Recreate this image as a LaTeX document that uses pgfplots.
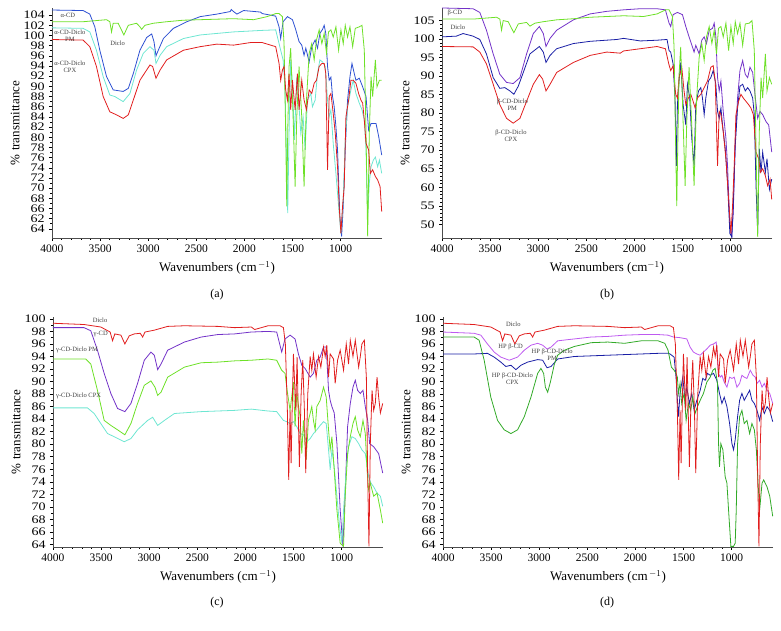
\documentclass[border=0pt]{standalone}
\usepackage{fontspec}
\setmainfont{Liberation Serif}
\usepackage{pgfplots}
\pgfplotsset{compat=1.18}
\definecolor{cBlueA}{RGB}{45,80,210}
\definecolor{cGreen}{RGB}{110,225,40}
\definecolor{cCyan}{RGB}{110,230,210}
\definecolor{cRed}{RGB}{225,30,30}
\definecolor{cPurple}{RGB}{115,50,200}
\definecolor{cNavy}{RGB}{25,30,165}
\definecolor{cViolet}{RGB}{190,90,240}
\definecolor{cDGreen}{RGB}{50,170,40}
\tikzset{ann/.style={font=\fontsize{6.5}{7}\selectfont, text=black!75, align=center, inner sep=0pt}}
\pgfplotsset{
  ftir/.style={
    scale only axis, width=330pt, height=230pt, anchor=south west,
    x dir=reverse, xmin=570, xmax=4000,
    xtick={1000,1500,...,4000}, minor x tick num=4,
    axis lines*=left, tick align=outside,
    major tick length=3pt, minor tick length=1.8pt,
    every tick/.style={black, line width=0.5pt},
    axis line style={line width=0.6pt, black!70},
    xticklabel style={font=\fontsize{11.5}{12}\selectfont},
    yticklabel style={font=\fontsize{11.5}{12}\selectfont, xscale=1.22},
    /pgf/number format/assume math mode=true,
    /pgf/number format/1000 sep={},
    xlabel={Wavenumbers (cm$^{\,-1}$)},
    ylabel={\% transmittance},
    label style={font=\fontsize{13}{14}\selectfont},
    xlabel style={at={(axis description cs:0.5,-0.13)}, anchor=center},
    ylabel style={at={(axis description cs:-0.112,0.5)}, anchor=center},
    every axis plot/.append style={line width=0.8pt, no markers},
    clip=true,
  },
}
\begin{document}
\begin{tikzpicture}[x=1pt,y=1pt]
\path[use as bounding box] (0,0) rectangle (781,631);
% ---------------- (a) ----------------
\begin{axis}[ftir, at={(52pt,393pt)}, ymin=60.2, ymax=105.4,
  ytick={62,64,...,104}, yticklabels={64,62,66,68,70,72,74,76,78,80,82,84,86,88,90,92,94,96,98,100,102,104},
  minor y tick num=1]
\addplot[cBlueA] coordinates {(4000,105.0) (3677,104.9) (3607,104.2) (3555,101.7) (3503,97.1) (3433,91.9) (3364,89.3) (3260,89.0) (3207,89.6) (3155,92.5) (3086,97.1) (3016,99.6) (2964,100.3) (2940,98.8) (2919,96.0) (2895,97.1) (2842,99.4) (2738,101.4) (2599,102.7) (2460,103.7) (2286,104.2) (2147,104.7) (2137,105.1) (2113,104.7) (2078,104.2) (2008,104.9) (1834,104.6) (1814,104.3) (1675,103.8) (1640,101.7) (1623,99.4) (1598,102.7) (1553,103.7) (1501,103.1) (1466,101.1) (1432,98.8) (1404,98.1) (1380,96.1) (1362,97.5) (1327,94.8) (1300,97.8) (1265,99.1) (1240,97.5) (1216,100.4) (1188,101.2) (1171,102.0) (1154,100.4) (1136,93.9) (1119,91.2) (1101,91.8) (1084,88.0) (1067,86.0) (1049,82.1) (1032,77.5) (1008,64.4) (990,60.5) (973,66.4) (952,77.5) (928,87.3) (903,91.9) (882,94.5) (858,92.5) (841,91.2) (806,91.6) (771,89.9) (736,88.0) (709,81.4) (684,82.7) (632,82.7) (604,80.1) (573,76.5)};
\addplot[cCyan] coordinates {(4000,101.5) (3677,101.4) (3607,100.7) (3538,97.1) (3468,91.9) (3399,88.3) (3347,88.0) (3260,87.0) (3190,88.6) (3121,93.2) (3051,96.5) (2982,97.8) (2940,97.1) (2919,94.5) (2877,96.1) (2808,97.8) (2634,99.4) (2460,100.1) (2113,100.7) (1814,101.0) (1675,101.1) (1623,97.1) (1598,95.2) (1578,89.6) (1564,77.5) (1550,65.1) (1536,80.8) (1519,95.2) (1501,90.6) (1480,79.5) (1456,91.9) (1432,86.0) (1414,80.8) (1390,84.0) (1369,77.5) (1345,87.3) (1310,88.6) (1293,86.0) (1265,87.3) (1240,92.5) (1216,95.2) (1188,94.8) (1160,93.9) (1136,87.3) (1119,84.0) (1101,85.4) (1077,78.8) (1049,72.9) (1021,66.4) (997,61.1) (973,67.7) (952,79.5) (928,86.0) (893,89.3) (869,91.2) (841,88.6) (806,86.7) (778,85.4) (754,83.4) (736,77.5) (719,64.4) (702,71.0) (684,74.2) (660,75.5) (639,76.1) (615,74.2) (597,75.5) (573,72.9)};
\addplot[cGreen] coordinates {(4000,102.7) (3677,102.7) (3433,103.1) (3399,102.7) (3381,100.7) (3364,102.4) (3312,102.4) (3253,100.1) (3207,102.0) (3121,102.4) (3086,101.7) (3068,101.2) (3034,102.0) (2947,102.4) (2808,102.7) (2634,103.0) (2460,103.1) (2113,103.3) (1904,103.1) (1765,103.7) (1675,104.3) (1640,104.3) (1605,103.7) (1588,98.4) (1571,80.8) (1560,66.4) (1550,80.8) (1536,93.9) (1519,97.5) (1494,84.0) (1473,70.3) (1456,84.0) (1432,93.9) (1404,84.0) (1380,70.3) (1355,87.3) (1327,96.5) (1300,98.4) (1275,95.2) (1251,99.1) (1223,101.1) (1195,98.4) (1171,100.4) (1147,96.5) (1126,100.7) (1101,101.1) (1077,99.7) (1049,101.7) (1021,97.1) (997,101.1) (973,98.4) (952,102.0) (928,99.7) (903,101.7) (875,97.8) (848,101.4) (806,101.7) (778,102.0) (754,97.1) (736,80.8) (719,60.5) (702,80.8) (684,91.9) (667,88.0) (639,95.2) (622,89.9) (597,91.2) (573,91.2)};
\addplot[cRed] coordinates {(4000,99.2) (3677,99.1) (3607,97.8) (3538,93.9) (3468,88.0) (3399,85.0) (3329,84.4) (3260,83.7) (3207,84.4) (3155,87.3) (3086,91.2) (2982,94.2) (2954,93.9) (2919,91.6) (2877,93.2) (2808,95.2) (2634,97.1) (2460,97.8) (2286,98.3) (2113,98.1) (1939,98.6) (1814,98.6) (1675,97.8) (1640,94.5) (1623,91.2) (1605,93.2) (1588,93.9) (1571,89.3) (1553,87.3) (1536,92.5) (1519,85.4) (1501,91.2) (1473,85.4) (1449,92.5) (1432,85.4) (1404,91.2) (1380,87.3) (1355,85.4) (1327,89.3) (1300,88.6) (1275,90.6) (1251,91.2) (1223,93.9) (1195,94.5) (1171,94.5) (1154,92.5) (1136,73.6) (1119,88.0) (1101,88.6) (1077,84.7) (1056,80.8) (1032,74.2) (1015,66.4) (997,61.1) (980,66.4) (963,70.3) (945,84.0) (917,87.3) (893,91.2) (869,91.2) (841,90.6) (813,88.6) (789,87.3) (771,86.7) (754,83.4) (736,78.8) (709,77.5) (691,72.9) (667,73.6) (639,72.3) (615,71.6) (590,70.3) (573,65.4)};
\node[ann] at (axis cs:3835,104) {α-CD};
\node[ann] at (axis cs:3814,99.9) {α-CD-Diclo\\PM};
\node[ann] at (axis cs:3317,98.5) {Diclo};
\node[ann] at (axis cs:3814,93.8) {α-CD-Diclo\\CPX};
\end{axis}
% ---------------- (b) ----------------
\begin{axis}[ftir, at={(442pt,393pt)}, ymin=46.3, ymax=108.4,
  ytick={50,55,...,105}, minor y tick num=4, xlabel={Wavenumbers (cm$^{-1}$)}]
\addplot[cPurple] coordinates {(4000,108.4) (3677,108.2) (3607,107.2) (3538,102.4) (3468,96.0) (3399,90.5) (3329,88.3) (3260,88.0) (3190,89.6) (3121,96.0) (3051,101.5) (2988,103.4) (2947,101.5) (2919,98.0) (2877,100.2) (2808,102.4) (2634,105.2) (2460,106.8) (2286,107.5) (2113,107.9) (1939,108.2) (1765,108.2) (1678,107.9) (1640,104.3) (1623,103.4) (1598,106.6) (1553,107.2) (1501,106.6) (1466,103.4) (1432,100.6) (1397,97.9) (1380,96.5) (1362,98.3) (1327,96.0) (1300,99.7) (1275,100.6) (1251,98.8) (1223,102.4) (1188,102.9) (1171,104.3) (1154,100.8) (1136,89.6) (1119,86.0) (1101,88.7) (1077,80.5) (1049,73.2) (1032,65.8) (1008,49.4) (990,46.6) (973,53.0) (952,72.2) (928,84.1) (903,91.5) (875,94.2) (848,90.5) (823,89.6) (799,92.4) (771,91.0) (743,84.1) (719,78.6) (695,80.5) (667,79.6) (632,77.7) (604,76.8) (573,69.5)};
\addplot[cNavy] coordinates {(4000,100.6) (3851,100.8) (3781,101.5) (3677,100.8) (3607,99.9) (3538,96.0) (3468,89.6) (3399,86.7) (3347,86.9) (3294,86.0) (3253,85.1) (3207,87.3) (3155,91.0) (3086,96.0) (2988,98.0) (2947,96.5) (2919,93.7) (2877,95.6) (2808,97.4) (2634,98.8) (2460,99.4) (2182,99.9) (2113,100.2) (1939,99.5) (1765,99.7) (1661,99.9) (1640,96.9) (1623,96.5) (1598,93.3) (1578,84.1) (1564,65.8) (1553,82.3) (1536,88.7) (1519,93.7) (1494,82.3) (1466,76.8) (1449,87.8) (1425,84.1) (1404,73.2) (1380,65.8) (1362,82.3) (1334,86.0) (1310,86.9) (1293,84.1) (1275,79.6) (1258,84.1) (1230,88.7) (1206,89.6) (1181,91.5) (1154,87.8) (1136,80.5) (1119,78.6) (1101,81.4) (1084,76.8) (1056,70.4) (1032,61.3) (1008,47.5) (987,46.6) (973,54.9) (952,71.3) (928,81.4) (903,87.3) (875,87.8) (848,86.0) (823,86.9) (799,86.0) (771,84.1) (754,79.6) (736,60.4) (719,47.5) (702,70.4) (684,64.0) (667,69.5) (639,64.0) (622,67.7) (597,59.4) (573,62.2)};
\addplot[cRed] coordinates {(4000,98.0) (3677,97.9) (3607,96.5) (3538,93.3) (3468,87.8) (3399,82.3) (3329,78.6) (3260,77.3) (3190,78.6) (3121,83.2) (3051,87.8) (2988,90.4) (2954,89.2) (2919,86.0) (2877,87.8) (2808,91.0) (2634,93.7) (2460,95.6) (2286,96.5) (2147,96.2) (2113,96.8) (1939,97.4) (1765,98.0) (1678,97.4) (1643,93.3) (1623,91.5) (1598,92.8) (1571,85.1) (1553,84.1) (1536,89.6) (1508,92.4) (1484,86.0) (1466,82.3) (1439,84.1) (1414,85.1) (1390,83.2) (1369,81.4) (1345,84.1) (1310,85.1) (1275,86.9) (1240,88.7) (1206,92.4) (1181,92.8) (1160,88.7) (1136,65.8) (1119,80.5) (1101,79.6) (1077,75.0) (1049,67.7) (1021,56.7) (997,47.5) (980,54.9) (963,65.8) (945,79.6) (917,83.2) (893,85.1) (869,84.1) (841,83.2) (813,82.3) (789,81.4) (764,79.6) (736,69.5) (709,67.7) (691,64.0) (667,65.0) (639,63.1) (615,60.4) (590,62.2) (573,56.7)};
\addplot[cGreen] coordinates {(4000,105.4) (3677,105.4) (3433,105.9) (3399,105.4) (3381,102.4) (3364,105.0) (3312,104.7) (3253,101.7) (3207,104.1) (3121,104.5) (3086,103.5) (3034,104.3) (2947,104.7) (2808,105.2) (2634,105.5) (2460,105.9) (2113,106.3) (1904,106.1) (1765,106.8) (1675,107.9) (1640,107.9) (1605,106.1) (1588,97.9) (1571,70.4) (1560,54.9) (1550,70.4) (1536,90.5) (1519,97.9) (1494,77.7) (1473,60.4) (1456,77.7) (1432,92.4) (1404,76.8) (1380,60.4) (1355,83.2) (1327,95.1) (1300,98.8) (1275,94.2) (1251,100.6) (1223,103.4) (1195,98.8) (1171,102.4) (1147,96.0) (1126,102.9) (1101,103.4) (1077,100.6) (1049,104.3) (1021,96.9) (997,103.4) (973,98.8) (952,104.7) (928,101.5) (903,104.3) (875,98.3) (848,104.1) (806,104.3) (778,105.0) (754,96.9) (736,70.4) (719,46.6) (702,75.0) (684,89.6) (667,84.1) (639,96.0) (622,86.0) (597,89.6) (573,87.8)};
\node[ann] at (axis cs:3866,107.2) {β-CD};
\node[ann] at (axis cs:3835,103.2) {Diclo};
\node[ann] at (axis cs:3269,82.3) {β-CD-Diclo\\PM};
\node[ann] at (axis cs:3283,73.9) {β-CD-Diclo\\CPX};
\end{axis}
% ---------------- (c) ----------------
\begin{axis}[ftir, at={(53pt,84pt)}, ymin=63.6, ymax=100.3,
  ytick={64,66,...,100}, minor y tick num=1]
\addplot[cPurple] coordinates {(4000,98.6) (3677,98.6) (3607,98.1) (3538,95.0) (3468,91.3) (3399,88.1) (3329,85.7) (3253,85.2) (3190,86.5) (3121,89.7) (3051,93.4) (2982,94.7) (2947,94.2) (2912,91.9) (2877,92.8) (2808,95.0) (2634,96.3) (2460,97.1) (2286,97.5) (2113,97.6) (1939,97.9) (1765,98.0) (1675,97.9) (1623,94.7) (1588,96.8) (1536,97.4) (1484,96.8) (1449,94.4) (1414,92.6) (1380,92.1) (1327,90.7) (1293,91.3) (1258,93.4) (1223,93.9) (1188,95.5) (1160,95.5) (1136,88.6) (1119,87.0) (1101,86.0) (1077,85.0) (1049,80.1) (1015,69.5) (987,63.7) (963,72.2) (938,82.8) (910,86.5) (882,89.1) (858,90.2) (834,88.6) (806,88.1) (778,88.6) (754,86.0) (729,83.8) (709,80.1) (667,79.6) (615,78.5) (573,75.4)};
\addplot[cCyan] coordinates {(4000,85.8) (3642,85.8) (3572,84.9) (3503,83.3) (3433,81.7) (3364,81.2) (3260,80.4) (3190,80.9) (3121,82.3) (3016,83.8) (2964,84.3) (2912,83.0) (2842,83.8) (2738,84.9) (2460,85.2) (2113,85.4) (1939,85.6) (1765,85.3) (1675,85.2) (1605,83.8) (1571,83.6) (1536,83.3) (1501,83.6) (1466,82.8) (1432,81.7) (1397,81.5) (1362,80.4) (1327,80.9) (1293,81.7) (1258,82.3) (1223,83.0) (1188,83.6) (1160,83.3) (1136,79.1) (1119,75.9) (1101,79.1) (1077,76.4) (1049,71.7) (1021,66.9) (997,64.2) (980,69.5) (952,75.9) (928,79.6) (893,81.2) (858,80.9) (823,80.1) (789,79.1) (754,78.5) (719,74.8) (695,73.8) (667,73.2) (632,72.2) (597,71.7) (573,70.1)};
\addplot[cGreen] coordinates {(4000,93.6) (3660,93.6) (3607,92.8) (3538,88.6) (3468,83.8) (3399,83.0) (3329,82.3) (3253,81.5) (3190,83.3) (3121,86.5) (3051,89.4) (2982,90.1) (2940,89.1) (2912,87.8) (2877,88.3) (2808,90.7) (2634,92.3) (2460,93.0) (2286,93.1) (2113,93.3) (1939,93.4) (1765,93.6) (1675,93.4) (1623,91.8) (1588,91.3) (1571,89.1) (1536,85.4) (1501,89.9) (1484,82.8) (1466,88.1) (1432,84.4) (1414,78.5) (1397,83.8) (1369,77.5) (1345,83.8) (1310,86.0) (1293,83.8) (1275,82.3) (1258,86.0) (1223,87.0) (1188,89.1) (1160,87.5) (1136,82.3) (1119,79.1) (1101,81.2) (1077,75.9) (1049,69.5) (1015,64.2) (980,63.7) (963,71.7) (938,78.5) (910,81.2) (882,83.3) (858,84.4) (834,82.3) (806,81.2) (778,83.8) (754,81.7) (736,75.9) (719,72.7) (702,73.8) (667,71.7) (632,72.2) (597,69.5) (573,67.4)};
\addplot[cRed] coordinates {(4000,99.3) (3677,99.1) (3503,98.7) (3406,97.9) (3381,96.5) (3357,97.6) (3294,97.4) (3253,96.0) (3207,97.3) (3155,97.6) (3093,97.7) (3068,97.1) (3044,97.9) (2947,98.2) (2808,98.8) (2634,98.9) (2286,98.8) (2113,98.6) (1939,98.7) (1904,98.3) (1765,98.9) (1640,98.9) (1605,98.6) (1585,96.0) (1564,85.4) (1550,74.3) (1536,85.4) (1525,77.0) (1515,85.0) (1501,94.4) (1477,85.4) (1463,93.9) (1439,76.4) (1421,88.0) (1404,93.4) (1386,85.0) (1373,75.4) (1352,88.0) (1327,94.0) (1310,91.8) (1293,94.4) (1265,90.7) (1240,94.0) (1216,92.3) (1188,95.5) (1171,94.0) (1154,95.8) (1136,90.7) (1119,94.4) (1084,93.6) (1067,89.7) (1042,93.4) (1015,95.0) (980,91.8) (952,96.0) (928,92.8) (910,96.6) (882,94.0) (858,96.6) (823,92.3) (806,94.0) (789,96.0) (764,96.6) (743,90.7) (729,74.8) (716,63.7) (702,80.0) (684,88.6) (667,85.4) (650,86.5) (632,90.7) (615,87.5) (597,85.0) (573,86.5)};
\node[ann] at (axis cs:3511,99.7) {Diclo};
\node[ann] at (axis cs:3504,97.5) {γ-CD};
\node[ann, anchor=west] at (axis cs:3969,95.1) {γ-CD-Diclo PM};
\node[ann, anchor=west] at (axis cs:3969,87.7) {γ-CD-Diclo CPX};
\end{axis}
% ---------------- (d) ----------------
\begin{axis}[ftir, at={(443pt,84pt)}, ymin=63.6, ymax=100.3,
  ytick={64,66,...,100}, minor y tick num=1]
\addplot[cViolet] coordinates {(4000,97.9) (3677,97.7) (3607,97.4) (3538,96.0) (3468,94.7) (3399,93.9) (3312,93.4) (3225,93.9) (3155,95.0) (3086,95.8) (3016,96.1) (2964,95.8) (2919,95.2) (2877,95.5) (2808,96.5) (2634,96.8) (2460,97.1) (2286,97.2) (2113,97.4) (1939,97.5) (1765,97.5) (1661,97.4) (1605,97.1) (1536,97.0) (1466,96.8) (1432,95.5) (1397,94.7) (1362,94.4) (1327,94.2) (1293,94.7) (1258,95.2) (1223,95.8) (1188,96.0) (1160,96.3) (1136,91.3) (1119,90.7) (1101,91.0) (1077,89.9) (1049,89.1) (1021,90.7) (997,90.5) (973,90.7) (945,89.1) (917,89.7) (893,91.0) (869,90.7) (841,90.5) (806,91.8) (778,91.0) (754,90.7) (736,89.7) (709,90.2) (684,89.1) (660,89.7) (632,88.6) (604,88.1) (573,86.5)};
\addplot[cNavy] coordinates {(4000,94.4) (3677,94.4) (3538,94.5) (3468,93.9) (3399,93.1) (3347,92.4) (3294,92.6) (3242,91.9) (3190,92.6) (3121,93.1) (3016,93.5) (2964,93.4) (2919,92.2) (2877,92.4) (2808,93.6) (2634,94.0) (2286,94.2) (1939,94.4) (1765,94.5) (1661,94.5) (1640,94.4) (1598,93.9) (1578,90.7) (1553,84.4) (1536,88.1) (1508,90.7) (1484,87.0) (1466,89.1) (1439,86.5) (1414,88.1) (1390,85.4) (1362,87.0) (1327,88.6) (1300,90.5) (1275,90.2) (1251,91.3) (1223,91.0) (1188,91.3) (1154,90.2) (1126,88.1) (1101,86.5) (1077,87.5) (1049,86.0) (1021,83.3) (997,80.1) (980,79.1) (963,80.7) (938,84.4) (917,87.0) (893,88.1) (869,87.0) (841,87.8) (813,88.6) (789,87.0) (764,86.5) (736,85.4) (709,83.8) (684,85.9) (660,84.9) (632,86.0) (604,85.4) (573,83.6)};
\addplot[cDGreen] coordinates {(4000,97.1) (3677,97.1) (3625,96.6) (3572,93.4) (3503,87.5) (3433,83.8) (3364,82.3) (3294,81.7) (3225,82.3) (3155,84.4) (3086,87.5) (3016,91.3) (2982,92.1) (2954,91.3) (2936,89.1) (2912,88.3) (2884,89.9) (2842,92.8) (2808,94.2) (2738,95.0) (2634,95.6) (2460,96.2) (2286,96.3) (2113,96.1) (1939,96.5) (1765,96.5) (1695,96.1) (1661,95.0) (1626,92.3) (1598,91.8) (1578,91.3) (1564,90.7) (1553,88.1) (1536,89.7) (1519,86.5) (1494,88.1) (1473,83.8) (1449,86.5) (1425,85.4) (1404,87.5) (1380,84.9) (1355,86.0) (1327,87.0) (1293,88.1) (1258,89.9) (1223,90.7) (1195,91.8) (1171,92.1) (1147,89.7) (1136,80.1) (1126,76.4) (1112,80.1) (1091,79.1) (1067,74.8) (1049,73.8) (1032,69.5) (1008,63.7) (980,63.7) (963,64.2) (952,69.5) (938,80.1) (917,84.4) (893,85.4) (869,83.3) (841,83.8) (813,81.7) (789,83.3) (764,82.3) (743,79.1) (729,74.8) (709,69.5) (684,73.8) (667,74.3) (632,73.2) (604,71.7) (573,68.5)};
\addplot[cRed] coordinates {(4000,99.3) (3677,99.1) (3503,98.7) (3406,97.9) (3381,96.5) (3357,97.6) (3294,97.4) (3253,96.0) (3207,97.3) (3155,97.6) (3093,97.7) (3068,97.1) (3044,97.9) (2947,98.2) (2808,98.8) (2634,98.9) (2286,98.8) (2113,98.6) (1939,98.7) (1904,98.3) (1765,98.9) (1640,98.9) (1605,98.6) (1585,96.0) (1564,85.4) (1550,74.3) (1536,85.4) (1525,77.0) (1515,85.0) (1501,94.4) (1477,85.4) (1463,93.9) (1439,76.4) (1421,88.0) (1404,93.4) (1386,85.0) (1373,75.4) (1352,88.0) (1327,94.0) (1310,91.8) (1293,94.4) (1265,90.7) (1240,94.0) (1216,92.3) (1188,95.5) (1171,94.0) (1154,95.8) (1136,90.7) (1119,94.4) (1084,93.6) (1067,89.7) (1042,93.4) (1015,95.0) (980,91.8) (952,96.0) (928,92.8) (910,96.6) (882,94.0) (858,96.6) (823,92.3) (806,94.0) (789,96.0) (764,96.6) (743,90.7) (729,74.8) (716,63.7) (702,80.0) (684,88.6) (667,85.4) (650,86.5) (632,90.7) (615,87.5) (597,85.0) (573,86.5)};
\node[ann] at (axis cs:3269,99.1) {Diclo};
\node[ann] at (axis cs:3297,95.5) {HP β-CD};
\node[ann] at (axis cs:2866,94.3) {HP β-CD-Diclo\\PM};
\node[ann] at (axis cs:3279,90.4) {HP β-CD-Diclo\\CPX};
\end{axis}
\node[font=\fontsize{12}{13}\selectfont] at (217,336) {(a)};
\node[font=\fontsize{12}{13}\selectfont] at (607,336) {(b)};
\node[font=\fontsize{12}{13}\selectfont] at (217,28) {(c)};
\node[font=\fontsize{12}{13}\selectfont] at (607,28) {(d)};
\end{tikzpicture}
\end{document}
